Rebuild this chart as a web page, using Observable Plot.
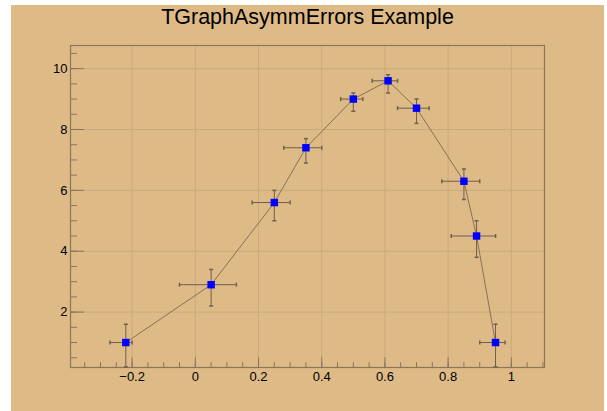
<!DOCTYPE html>
<html>
<head>
<meta charset="utf-8">
<script src="https://cdn.jsdelivr.net/npm/d3@7"></script>
<script src="https://cdn.jsdelivr.net/npm/@observablehq/plot@0.6"></script>
<style>
  html, body { margin: 0; padding: 0; background: #ffffff; }
  #canvas { position: absolute; left: 11px; top: 5px; width: 593px; height: 406px; background: #deba87; }
  #title { position: absolute; left: 0; top: 2px; width: 100%; text-align: center; font-family: "Liberation Sans", Arial, sans-serif; font-size: 21.5px; line-height: 21.5px; color: #000; }
  #plot { position: absolute; left: 0; top: 30px; }
</style>
</head>
<body>
<div id="canvas">
  <div id="title">TGraphAsymmErrors Example</div>
  <div id="plot"></div>
</div>
<script>
// Data (ROOT TGraphAsymmErrors example)
const xs  = [-0.22, 0.05, 0.25, 0.35, 0.5, 0.61, 0.7, 0.85, 0.89, 0.95];
const ys  = [1, 2.9, 5.6, 7.4, 9, 9.6, 8.7, 6.3, 4.5, 1];
const exl = [0.05, 0.1, 0.07, 0.07, 0.04, 0.05, 0.06, 0.07, 0.08, 0.05];
const exh = [0.02, 0.08, 0.05, 0.05, 0.03, 0.03, 0.04, 0.05, 0.06, 0.03];
const eyl = [0.8, 0.7, 0.6, 0.5, 0.4, 0.4, 0.5, 0.6, 0.7, 0.8];
const eyh = [0.6, 0.5, 0.4, 0.3, 0.2, 0.2, 0.3, 0.4, 0.5, 0.6];

// Axis ticks
const xMajor = [-0.2, 0, 0.2, 0.4, 0.6, 0.8, 1];
const xMajorLabels = ["\u22120.2", "0", "0.2", "0.4", "0.6", "0.8", "1"];
const xMinor = d3.range(-7, 23).map(i => Math.round(i * 5) / 100);
const yMajor = [2, 4, 6, 8, 10];
const yMajorLabels = ["2", "4", "6", "8", "10"];
const yMinor = d3.range(1, 22).map(i => i / 2);

const xDomain = [-0.395, 1.105];
const yDomain = [0.18, 10.76];

const data = xs.map((x, i) => ({
  x, y: ys[i],
  xlo: x - exl[i], xhi: x + exh[i],
  ylo: ys[i] - eyl[i], yhi: ys[i] + eyh[i]
}));

const frameColor = "#8a7658";
const gridColor = "#c9aa7c";
const errColor = "#6f5f4b";
const lineColor = "#857256";

const vCap = { draw(ctx) { ctx.moveTo(0, -2); ctx.lineTo(0, 2); } };
const hCap = { draw(ctx) { ctx.moveTo(-2, 0); ctx.lineTo(2, 0); } };

const xLabel = d => xMajorLabels[xMajor.indexOf(d)];
const yLabel = d => yMajorLabels[yMajor.indexOf(d)];

const chart = Plot.plot({
  width: 593,
  height: 376,
  marginTop: 10,
  marginBottom: 44,
  marginLeft: 59,
  marginRight: 60,
  style: { background: "transparent", fontFamily: "'Liberation Sans', Arial, sans-serif", fontSize: "13px", color: "#000" },
  x: { domain: xDomain },
  y: { domain: yDomain },
  marks: [
    Plot.gridX(xMajor, { stroke: gridColor, strokeOpacity: 1 }),
    Plot.gridY(yMajor, { stroke: gridColor, strokeOpacity: 1 }),
    Plot.axisX(xMinor, { tickSize: -4.8, text: null, stroke: frameColor, strokeOpacity: 1 }),
    Plot.axisX(xMajor, { tickSize: -9.7, tickPadding: 13.5, tickFormat: xLabel, stroke: frameColor, fill: "#000", label: null }),
    Plot.axisY(yMinor, { tickSize: -7, text: null, stroke: frameColor }),
    Plot.axisY(yMajor, { tickSize: -14, tickPadding: 17, tickFormat: yLabel, stroke: frameColor, fill: "#000", label: null }),
    Plot.frame({ stroke: frameColor, strokeWidth: 1.2 }),
    Plot.line(data, { x: "x", y: "y", stroke: lineColor, strokeWidth: 1 }),
    Plot.ruleY(data, { x1: "xlo", x2: "xhi", y: "y", stroke: errColor, strokeWidth: 1 }),
    Plot.ruleX(data, { x: "x", y1: "ylo", y2: "yhi", stroke: errColor, strokeWidth: 1 }),
    Plot.dot(data, { x: "xlo", y: "y", symbol: vCap, stroke: errColor, fill: "none", r: 2 }),
    Plot.dot(data, { x: "xhi", y: "y", symbol: vCap, stroke: errColor, fill: "none", r: 2 }),
    Plot.dot(data, { x: "x", y: "ylo", symbol: hCap, stroke: errColor, fill: "none", r: 2 }),
    Plot.dot(data, { x: "x", y: "yhi", symbol: hCap, stroke: errColor, fill: "none", r: 2 }),
    Plot.dot(data, { x: "x", y: "y", symbol: "square", fill: "#0000ff", stroke: "none", r: 4.2 })
  ]
});
document.getElementById("plot").appendChild(chart);
</script>
</body>
</html>
